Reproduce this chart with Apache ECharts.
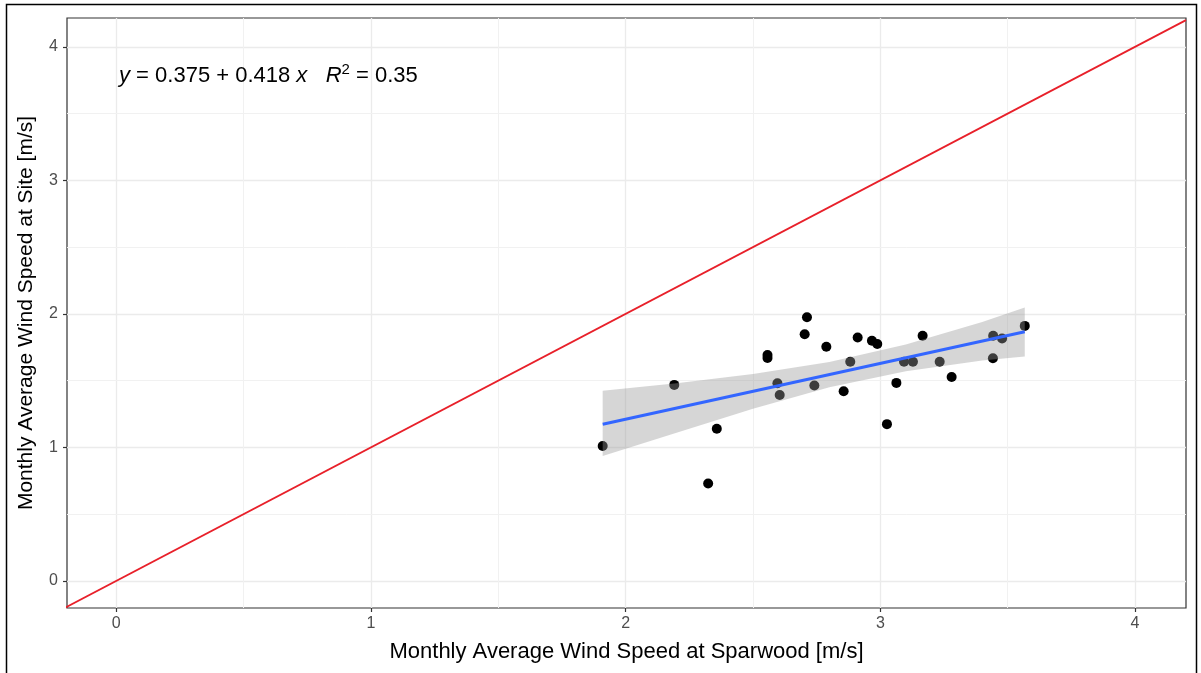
<!DOCTYPE html>
<html>
<head>
<meta charset="utf-8">
<script src="https://cdn.jsdelivr.net/npm/echarts@6/dist/echarts.min.js"></script>
<style>
html,body{margin:0;padding:0;background:#fff;}
#chart{width:1201px;height:673px;}
</style>
</head>
<body>
<div id="chart"></div>
<script>
// Observed monthly averages: x = Sparwood, y = Site
const sparwood = [1.910, 2.191, 2.358, 2.324, 2.557, 2.557, 2.596, 2.605, 2.712, 2.703, 2.741, 2.788, 2.856, 2.882,
                  2.911, 2.967, 2.988, 3.026, 3.063, 3.093, 3.128, 3.166, 3.233, 3.280, 3.443, 3.442, 3.478, 3.567];
const site     = [1.010, 1.468, 1.139, 0.729, 1.692, 1.669, 1.480, 1.393, 1.975, 1.848, 1.463, 1.754, 1.420, 1.642,
                  1.823, 1.799, 1.774, 1.174, 1.483, 1.642, 1.642, 1.836, 1.642, 1.527, 1.836, 1.667, 1.816, 1.910];
// Fitted line (y = 0.375 + 0.418 x) at the ends of the data range
const fitX = [1.910, 3.567];
const fitY = [1.173, 1.866];
// Confidence band
const bandX     = [1.910, 2.200, 2.500, 2.800, 3.100, 3.400, 3.567];
const bandLower = [0.935, 1.110, 1.290, 1.450, 1.570, 1.650, 1.681];
const bandUpper = [1.425, 1.480, 1.550, 1.640, 1.770, 1.940, 2.047];
// 1:1 reference line end points
const identityX = [-0.2, 4.2];
const identityY = [-0.2, 4.2];
// Minor grid positions
const minorX = [0.5, 1.5, 2.5, 3.5];
const minorY = [0.5, 1.5, 2.5, 3.5];
const equation = ['y', ' = 0.375 + 0.418 ', 'x', '   ', 'R', '2', ' = 0.35'];

const chart = echarts.init(document.getElementById('chart'));
const FONT = 'Liberation Sans, Arial, sans-serif';

const points = sparwood.map((x, i) => [x, site[i]]);
const fitData = fitX.map((x, i) => [x, fitY[i]]);
const bandData = bandX.map((x, i) => [x, bandLower[i], bandUpper[i]]);
const idData = identityX.map((x, i) => [x, identityY[i]]);

const minorLineStyle = {color: '#F1F1F1', width: 1, type: 'solid'};
const minorMarks = minorX.map(v => ({xAxis: v})).concat(minorY.map(v => ({yAxis: v})));

function intLabel(v) {
  return Math.abs(v - Math.round(v)) < 1e-6 ? String(Math.round(v)) : '';
}

const option = {
  animation: false,
  backgroundColor: '#fff',
  title: {
    text: '{i|' + equation[0] + '}' + equation[1] + '{i|' + equation[2] + '}' + equation[3] +
          '{i|' + equation[4] + '}{sup|' + equation[5] + '}' + equation[6],
    left: 114, top: 57,
    textStyle: {
      fontFamily: FONT, fontSize: 22, color: '#000', fontWeight: 'normal',
      rich: {
        i: {fontFamily: FONT, fontSize: 22, fontStyle: 'italic', color: '#000'},
        sup: {fontFamily: FONT, fontSize: 15, color: '#000', verticalAlign: 'top', padding: [0, 0, 12, 0]}
      }
    }
  },
  graphic: [{
    type: 'rect', silent: true, z: 100,
    shape: {x: 6.5, y: 4.5, width: 1190, height: 680},
    style: {fill: 'none', stroke: '#000', lineWidth: 1.5}
  }],
  grid: {
    left: 67, right: 15, top: 18, bottom: 65,
    show: true, borderColor: '#333333', borderWidth: 1.2, backgroundColor: 'transparent'
  },
  xAxis: {
    type: 'value', min: -0.193, max: 4.2, splitNumber: 5,
    name: 'Monthly Average Wind Speed at Sparwood [m/s]',
    nameLocation: 'middle', nameGap: 33,
    nameTextStyle: {fontFamily: FONT, fontSize: 22, color: '#000'},
    axisLine: {show: false, onZero: false},
    axisTick: {show: true, inside: false, length: 4, lineStyle: {color: '#333333', width: 1.2}},
    axisLabel: {showMinLabel: false, showMaxLabel: false, margin: 8, fontFamily: FONT, fontSize: 16, color: '#4D4D4D', formatter: intLabel},
    splitLine: {show: true, showMinLine: false, showMaxLine: false, lineStyle: {color: '#EBEBEB', width: 1.3}}
  },
  yAxis: {
    type: 'value', min: -0.203, max: 4.216, splitNumber: 5,
    name: 'Monthly Average Wind Speed at Site [m/s]',
    nameLocation: 'middle', nameGap: 30,
    nameTextStyle: {fontFamily: FONT, fontSize: 21, color: '#000'},
    axisLine: {show: false, onZero: false},
    axisTick: {show: true, inside: false, length: 4, lineStyle: {color: '#333333', width: 1.2}},
    axisLabel: {showMinLabel: false, showMaxLabel: false, margin: 9, fontFamily: FONT, fontSize: 16, color: '#4D4D4D', formatter: intLabel},
    splitLine: {show: true, showMinLine: false, showMaxLine: false, lineStyle: {color: '#EBEBEB', width: 1.3}}
  },
  series: [
    {
      type: 'line', data: [], silent: true, z: 1,
      markLine: {silent: true, z: 1, symbol: 'none', label: {show: false}, lineStyle: minorLineStyle, data: minorMarks}
    },
    {
      type: 'scatter', data: points, symbol: 'circle', symbolSize: 10,
      itemStyle: {color: '#000', opacity: 1}, silent: true, z: 10
    },
    {
      type: 'custom', data: bandData, encode: {x: 0, y: [1, 2]}, silent: true, z: 11, clip: true,
      renderItem: function (params, api) {
        if (params.dataIndex !== 0) return null;
        const pts = [];
        for (let i = 0; i < bandData.length; i++) pts.push(api.coord([bandData[i][0], bandData[i][2]]));
        for (let i = bandData.length - 1; i >= 0; i--) pts.push(api.coord([bandData[i][0], bandData[i][1]]));
        return {type: 'polygon', shape: {points: pts}, style: {fill: 'rgba(153,153,153,0.4)'}};
      }
    },
    {
      type: 'line', data: fitData, showSymbol: false, symbol: 'none', silent: true, z: 12,
      lineStyle: {color: '#3366FF', width: 3}
    },
    {
      type: 'line', data: idData, showSymbol: false, symbol: 'none', silent: true, z: 13, clip: true,
      lineStyle: {color: '#E8202A', width: 1.8}
    }
  ]
};
chart.setOption(option);
</script>
</body>
</html>
